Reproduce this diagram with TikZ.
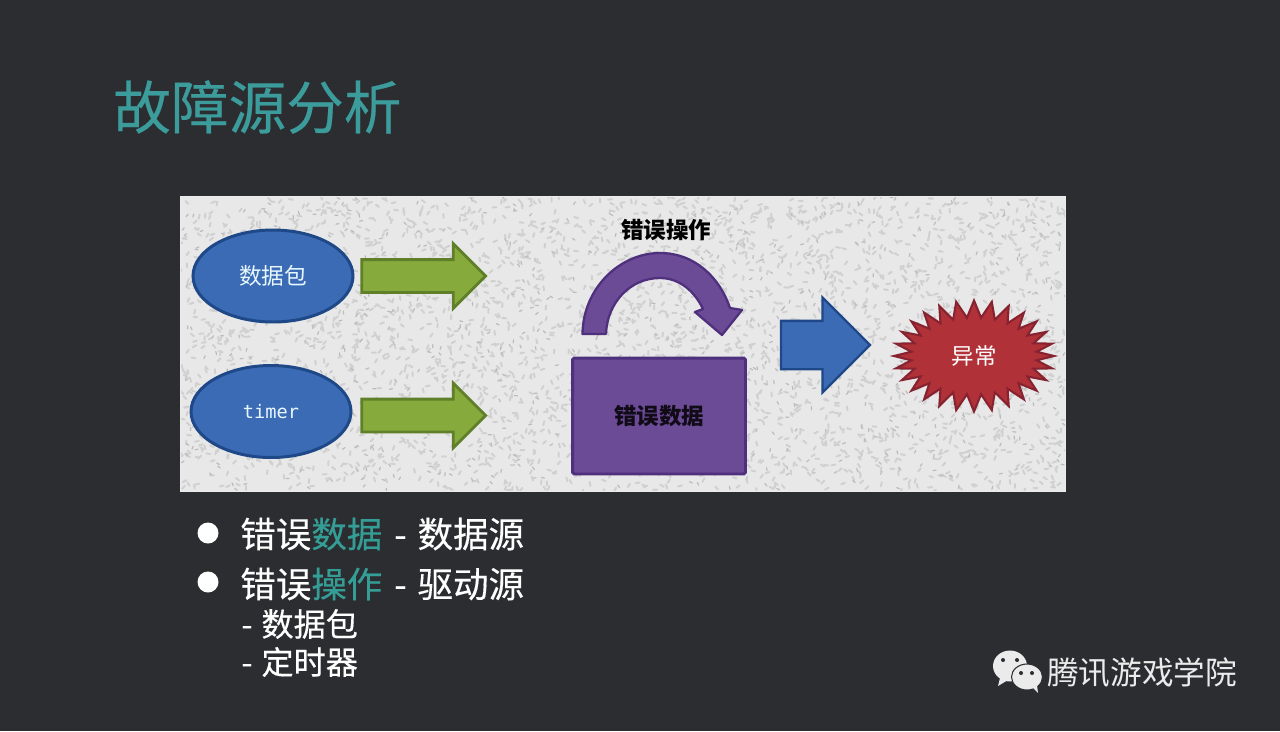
\documentclass[tikz,border=0pt]{standalone}
\usepackage{fontspec}
\usepackage{xcolor}
\usetikzlibrary{
    shapes.geometric,
    shapes.arrows,
    shapes.symbols
}
\setmainfont{Noto Sans CJK SC}
\newfontfamily\heavyfont[FakeBold=0.35]{Noto Sans CJK SC}
\newfontfamily\monofont{DejaVu Sans Mono}
\definecolor{slide}{RGB}{43,45,48}
\definecolor{heading}{RGB}{60,156,156}
\definecolor{accent}{RGB}{52,158,150}
\definecolor{panel}{RGB}{232,232,232}
\definecolor{speck}{RGB}{208,208,208}
\definecolor{speckdark}{RGB}{188,188,188}
\definecolor{bluefill}{RGB}{60,107,181}
\definecolor{blueline}{RGB}{30,72,135}
\definecolor{greenfill}{RGB}{135,170,60}
\definecolor{greenline}{RGB}{95,128,40}
\definecolor{purplefill}{RGB}{107,74,150}
\definecolor{purpleline}{RGB}{78,48,125}
\definecolor{redfill}{RGB}{176,50,56}
\definecolor{redline}{RGB}{135,35,48}
\definecolor{paper}{RGB}{235,235,235}

\begin{document}
\begin{tikzpicture}[
    x=0.02cm, y=-0.02cm,
    source/.style={ellipse, draw=blueline, fill=bluefill, line width=1.7pt, minimum width=3.2cm, minimum height=1.84cm, inner sep=0pt, text=white!90!cyan, font=\fontsize{12.9}{14}\selectfont},
    flow/.style={single arrow, draw=greenline, fill=greenfill, line width=1.6pt, single arrow head extend=0.32cm, text height=0.3cm, text depth=0.3cm, minimum width=1.24cm, minimum height=2.48cm, inner sep=0pt},
    bullet/.style={circle, fill=white, minimum size=0.42cm, inner sep=0pt},
    item/.style={anchor=west, text=white, inner sep=0pt, font=\heavyfont\fontsize{20.2}{24}\selectfont},
    subitem/.style={anchor=west, text=white, inner sep=0pt, font=\heavyfont\fontsize{18.3}{22}\selectfont},
    bubble/.style={fill=paper, draw=slide, line width=0.6pt}
]
    % Slide background
    \fill[slide] (0,0) rectangle (1280,731);
    \useasboundingbox (0,0) rectangle (1280,731);

    % Title
    \node[anchor=west, text=heading, inner sep=0pt, font=\heavyfont\fontsize{32.8}{38}\selectfont] (title) at (113,107) {故障源分析};

    % Grainy panel
    \node[draw=white!85!gray, fill=panel, line width=0.5pt, minimum width=17.72cm, minimum height=5.9cm, inner sep=0pt] (board) at (623,343.5) {};
    \begin{scope}
        \clip (181,197) rectangle (1065,490);
        \pgfmathsetseed{11}
        \foreach \i in {1,...,3200} {
            \pgfmathsetmacro{\px}{181+884*rnd}
            \pgfmathsetmacro{\py}{197+293*rnd}
            \pgfmathsetmacro{\ang}{360*rnd}
            \draw[speck, line width=1.1pt, line cap=round] (\px,\py) -- ++(\ang:4);
        }
        \foreach \i in {1,...,700} {
            \pgfmathsetmacro{\px}{181+884*rnd}
            \pgfmathsetmacro{\py}{197+293*rnd}
            \pgfmathsetmacro{\ang}{360*rnd}
            \draw[speckdark, line width=0.7pt, line cap=round] (\px,\py) -- ++(\ang:3);
        }
    \end{scope}

    % Left side: sources
    \node[source] (packet) at (273,276) {数据包};
    \node[source, font=\monofont\fontsize{10.6}{12}\selectfont] (timer) at (271,411.5) {timer};
    \node[flow] (flowa) at (415.5,276) {};
    \node[flow] (flowb) at (415.5,415.5) {};

    % Middle: wrong operation on wrong data
    \node[font=\bfseries\fontsize{12.8}{15}\selectfont] (oplabel) at (666,230) {错误操作};
    \draw[fill=purplefill, draw=purpleline, line width=1.3pt, line join=round]
        (582.5,334) .. controls (583,288) and (620,253) .. (660,253)
        .. controls (695,253) and (720,278) .. (730,308)
        -- (742,310) -- (722,335) -- (695,312) -- (703,309)
        .. controls (695,292) and (680,278) .. (660,278)
        .. controls (630,278) and (607,303) .. (606,334) -- cycle;
    \node[rectangle, rounded corners=1pt, draw=purpleline, fill=purplefill, line width=1.7pt, minimum width=3.46cm, minimum height=2.32cm, inner sep=0pt, font=\bfseries\fontsize{12.8}{15}\selectfont, text=black!85!purplefill] (wrongdata) at (659,416) {错误数据};

    % Right side: result
    \node[single arrow, draw=blueline, fill=bluefill, line width=1.3pt, single arrow head extend=0.47cm, text height=0.46cm, text depth=0.46cm, minimum width=1.9cm, minimum height=1.78cm, inner sep=0pt] (result) at (813.5,345) {};
    \node[starburst, starburst points=28, starburst point height=0.34cm, random starburst=0, draw=redline, fill=redfill, line width=1.2pt, minimum width=3.2cm, minimum height=2.22cm, inner sep=0pt, text=white, font=\fontsize{12.8}{15}\selectfont] (fault) at (974,356) {异常};

    % Bullet list
    \node[bullet] (dota) at (208,533) {};
    \node[item] (itema) at (240,534) {错误\textcolor{accent}{数据}\hspace{0.24cm}-\hspace{0.22cm}数据源};
    \node[bullet] (dotb) at (208,582) {};
    \node[item] (itemb) at (240,584) {错误\textcolor{accent}{操作}\hspace{0.24cm}-\hspace{0.22cm}驱动源};
    \node[subitem] (suba) at (241,624) {-\hspace{0.18cm}数据包};
    \node[subitem] (subb) at (241,662) {-\hspace{0.18cm}定时器};

    % WeChat mark
    \fill[paper] (1000,678) -- (998,686) -- (1008,680) -- cycle;
    \node[ellipse, fill=paper, minimum width=0.68cm, minimum height=0.62cm, inner sep=0pt] (bigbubble) at (1010,666) {};
    \node[ellipse, bubble, minimum width=0.62cm, minimum height=0.52cm, inner sep=0pt] (smallbubble) at (1027,677) {};
    \fill[paper] (1032,687) -- (1038,693) -- (1037,685) -- cycle;
    \foreach \ex/\ey in {1003/660, 1017/660, 1021/673, 1032/673}
        \fill[slide] (\ex,\ey) circle (2);

    % Footer
    \node[anchor=west, text=paper, inner sep=0pt, font=\fontsize{18}{22}\selectfont] (footer) at (1047,673) {腾讯游戏学院};
\end{tikzpicture}
\end{document}
